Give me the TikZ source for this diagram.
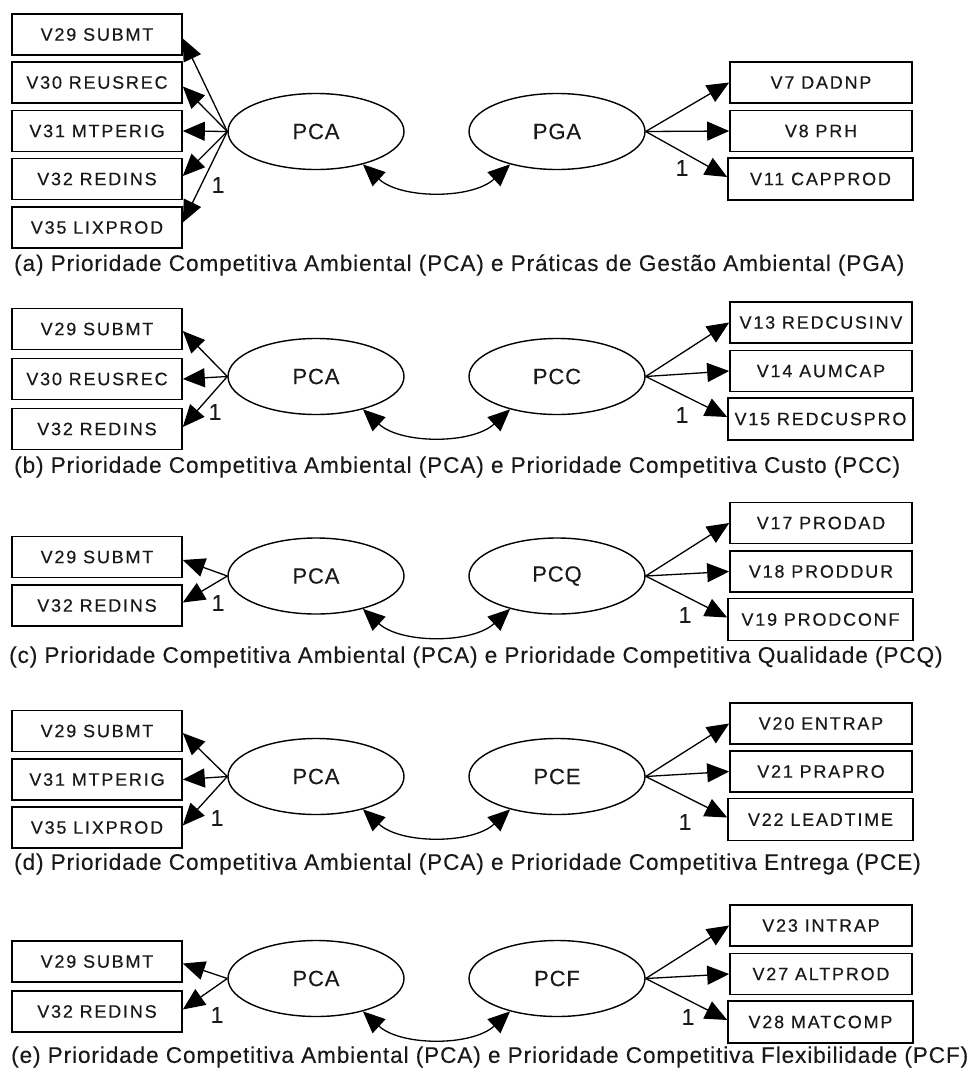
\documentclass[tikz,border=0pt]{standalone}
\usepackage{fontspec}
\setmainfont{Liberation Sans}
\newfontfamily\boxfont{Liberation Sans}[LetterSpace=10,FakeBold=0.35]
\newfontfamily\capfont{Liberation Sans}[LetterSpace=3.9,FakeBold=0.2]
\usetikzlibrary{arrows.meta,shapes.geometric}
\tikzset{
  obs/.style={draw, line width=1.6pt, minimum width=170pt, minimum height=41pt, inner sep=0pt,
    font=\boxfont\fontsize{18}{20}\selectfont, text=black!90},
  obsR/.style={obs, minimum width=182pt},
  obsRone/.style={obs, minimum width=185pt, minimum height=42pt},
  lat/.style={draw, ellipse, line width=1.4pt, minimum width=176pt, minimum height=76pt, inner sep=0pt,
    font=\capfont\fontsize{22}{24}\selectfont, text=black!90},
  arr/.style={-{Triangle[length=22pt,width=19pt]}, line width=1.3pt},
  cov/.style={{Triangle[length=22pt,width=19pt]}-{Triangle[length=22pt,width=19pt]}, line width=1.3pt},
  one/.style={font=\capfont\fontsize{23}{24}\selectfont, inner sep=0pt, text=black!90},
  captext/.style={anchor=west, inner sep=0pt, font=\capfont\fontsize{22.6}{24}\selectfont, text=black!90}
}
\begin{document}
\begin{tikzpicture}[x=1pt,y=-1pt]
\useasboundingbox (0,0) rectangle (976,1068);
\fill[white] (0,0) rectangle (976,1068);

% ---------- (a)
\node[lat] (a-pca) at (316,131.5) {PCA};
\node[lat] (a-pga) at (557,131.5) {PGA};
\node[obs] (a-v29) at (97,34.5) {V29 SUBMT};
\node[obs] (a-v30) at (97,82.5) {V30 REUSREC};
\node[obs] (a-v31) at (97,131) {V31 MTPERIG};
\node[obs] (a-v32) at (97,179) {V32 REDINS};
\node[obs] (a-v35) at (97,227.5) {V35 LIXPROD};
\node[obsR] (a-v7) at (821,82.5) {V7 DADNP};
\node[obsR] (a-v8) at (821,131) {V8 PRH};
\node[obsRone] (a-v11) at (820.5,179) {V11 CAPPROD};
\draw[arr] (a-pca.west) -- ([yshift=-4pt]a-v29.east);
\draw[arr] (a-pca.west) -- ([yshift=-4pt]a-v30.east);
\draw[arr] (a-pca.west) -- (a-v31.east);
\draw[arr] (a-pca.west) -- ([yshift=3pt]a-v32.east);
\draw[arr] (a-pca.west) -- ([yshift=5pt]a-v35.east);
\draw[arr] (a-pga.east) -- (a-v7.west);
\draw[arr] (a-pga.east) -- (a-v8.west);
\draw[arr] (a-pga.east) -- ([yshift=2pt]a-v11.west);
\draw[cov] (a-pca.-35) .. controls +(38,35) and +(-38,35) .. (a-pga.-145);
\node[one] (a-1l) at (218,185) {1};
\node[one] (a-1r) at (682,168) {1};
\node[captext] (a-cap) at (14,265) {(a) Prioridade Competitiva Ambiental (PCA) e Práticas de Gestão Ambiental (PGA)};

% ---------- (b)
\node[lat] (b-pca) at (316,376.5) {PCA};
\node[lat] (b-pcc) at (557,376.5) {PCC};
\node[obs] (b-v29) at (97,329) {V29 SUBMT};
\node[obs] (b-v30) at (97,379) {V30 REUSREC};
\node[obs] (b-v32) at (97,429) {V32 REDINS};
\node[obsR] (b-v13) at (821,322.5) {V13 REDCUSINV};
\node[obsR] (b-v14) at (821,371) {V14 AUMCAP};
\node[obsRone] (b-v15) at (820.5,419) {V15 REDCUSPRO};
\draw[arr] (b-pca.west) -- ([yshift=-2pt]b-v29.east);
\draw[arr] (b-pca.west) -- (b-v30.east);
\draw[arr] (b-pca.west) -- ([yshift=2pt]b-v32.east);
\draw[arr] (b-pcc.east) -- (b-v13.west);
\draw[arr] (b-pcc.east) -- (b-v14.west);
\draw[arr] (b-pcc.east) -- ([yshift=2pt]b-v15.west);
\draw[cov] (b-pca.-35) .. controls +(38,35) and +(-38,35) .. (b-pcc.-145);
\node[one] (b-1l) at (215,412) {1};
\node[one] (b-1r) at (682,415) {1};
\node[captext] (b-cap) at (14,467) {(b) Prioridade Competitiva Ambiental (PCA) e Prioridade Competitiva Custo (PCC)};

% ---------- (c)
\node[lat] (c-pca) at (316,576) {PCA};
\node[lat] (c-pcq) at (557,576) {PCQ};
\node[obs] (c-v29) at (97,557) {V29 SUBMT};
\node[obs] (c-v32) at (97,605.5) {V32 REDINS};
\node[obsR] (c-v17) at (821,523) {V17 PRODAD};
\node[obsR] (c-v18) at (821,571.5) {V18 PRODDUR};
\node[obsRone] (c-v19) at (820.5,619.5) {V19 PRODCONF};
\draw[arr] (c-pca.west) -- ([yshift=-3pt]c-v29.east);
\draw[arr] (c-pca.west) -- ([yshift=3pt]c-v32.east);
\draw[arr] (c-pcq.east) -- (c-v17.west);
\draw[arr] (c-pcq.east) -- (c-v18.west);
\draw[arr] (c-pcq.east) -- ([yshift=2pt]c-v19.west);
\draw[cov] (c-pca.-35) .. controls +(38,35) and +(-38,35) .. (c-pcq.-145);
\node[one] (c-1l) at (218,603) {1};
\node[one] (c-1r) at (685,615) {1};
\node[captext] (c-cap) at (9,657) {(c) Prioridade Competitiva Ambiental (PCA) e Prioridade Competitiva Qualidade (PCQ)};

% ---------- (d)
\node[lat] (d-pca) at (316,776.5) {PCA};
\node[lat] (d-pce) at (557,776.5) {PCE};
\node[obs] (d-v29) at (97,731) {V29 SUBMT};
\node[obs] (d-v31) at (97,779.5) {V31 MTPERIG};
\node[obs] (d-v35) at (97,827.5) {V35 LIXPROD};
\node[obsR] (d-v20) at (821,723.5) {V20 ENTRAP};
\node[obsR] (d-v21) at (821,771.5) {V21 PRAPRO};
\node[obsRone] (d-v22) at (820.5,819.5) {V22 LEADTIME};
\draw[arr] (d-pca.west) -- ([yshift=-2pt]d-v29.east);
\draw[arr] (d-pca.west) -- (d-v31.east);
\draw[arr] (d-pca.west) -- ([yshift=2pt]d-v35.east);
\draw[arr] (d-pce.east) -- (d-v20.west);
\draw[arr] (d-pce.east) -- (d-v21.west);
\draw[arr] (d-pce.east) -- ([yshift=2pt]d-v22.west);
\draw[cov] (d-pca.-35) .. controls +(38,35) and +(-38,35) .. (d-pce.-145);
\node[one] (d-1l) at (217,818) {1};
\node[one] (d-1r) at (685,822) {1};
\node[captext] (d-cap) at (14,864) {(d) Prioridade Competitiva Ambiental (PCA) e Prioridade Competitiva Entrega (PCE)};

% ---------- (e)
\node[lat] (e-pca) at (316,978.5) {PCA};
\node[lat] (e-pcf) at (557,978.5) {PCF};
\node[obs] (e-v29) at (97,961.5) {V29 SUBMT};
\node[obs] (e-v32) at (97,1011.5) {V32 REDINS};
\node[obsR] (e-v23) at (821,925.5) {V23 INTRAP};
\node[obsR] (e-v27) at (821,974) {V27 ALTPROD};
\node[obsRone] (e-v28) at (820.5,1022) {V28 MATCOMP};
\draw[arr] (e-pca.west) -- ([yshift=-2pt]e-v29.east);
\draw[arr] (e-pca.west) -- ([yshift=2pt]e-v32.east);
\draw[arr] (e-pcf.east) -- (e-v23.west);
\draw[arr] (e-pcf.east) -- (e-v27.west);
\draw[arr] (e-pcf.east) -- ([yshift=2pt]e-v28.west);
\draw[cov] (e-pca.-35) .. controls +(38,35) and +(-38,35) .. (e-pcf.-145);
\node[one] (e-1l) at (217,1015) {1};
\node[one] (e-1r) at (688,1017) {1};
\node[captext] (e-cap) at (11,1057) {(e) Prioridade Competitiva Ambiental (PCA) e Prioridade Competitiva Flexibilidade (PCF)};
\end{tikzpicture}
\end{document}
